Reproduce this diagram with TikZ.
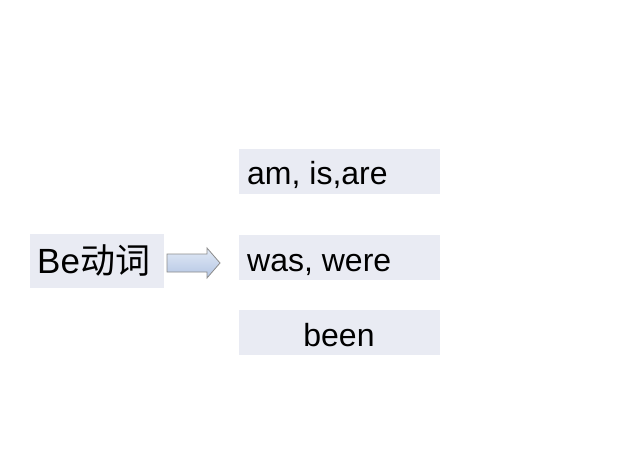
\documentclass[tikz,border=0pt]{standalone}
\usepackage{fontspec}
\setmainfont{Liberation Sans}
\newfontfamily\cjk{Noto Sans CJK SC}
\definecolor{boxfill}{HTML}{E9EBF3}
\definecolor{arrowtop}{HTML}{E2EAF6}
\definecolor{arrowbot}{HTML}{B3C5E3}
\definecolor{arrowline}{HTML}{8C8C8C}
\tikzset{
  wordbox/.style={fill=boxfill, draw=none, minimum width=201pt, minimum height=45pt, inner sep=0pt, anchor=north west},
  bebox/.style={fill=boxfill, draw=none, minimum width=134pt, minimum height=54pt, inner sep=0pt, anchor=north west},
  wordtext/.style={anchor=base west, inner sep=0pt, font=\fontsize{32}{32}\selectfont},
  blockarrow/.style={draw=arrowline, line width=0.8pt, top color=arrowtop, bottom color=arrowbot, line join=miter}
}
\begin{document}
\begin{tikzpicture}[x=1pt,y=-1pt]
\useasboundingbox[fill=white] (0,0) rectangle (640,468);
\node[bebox] (be) at (30,234) {};
\node[anchor=base west, inner sep=0pt, font=\fontsize{35}{35}\selectfont] (betext) at (37,273) {Be{\cjk 动词}};
\node[wordbox] (b1) at (239,149) {};
\node[wordtext] (t1) at (247,185) {am, is,are};
\node[wordbox] (b2) at (239,235) {};
\node[wordtext] (t2) at (247,271) {was, were};
\node[wordbox] (b3) at (239,310) {};
\node[wordtext, anchor=base] (t3) at (339,346) {been};
\coordinate (as) at (167,263);
\path[blockarrow] (as) ++(0,-9) -- ++(40,0) -- ++(0,-6) -- ++(13,15) -- ++(-13,15) -- ++(0,-6) -- ++(-40,0) -- cycle;
\end{tikzpicture}
\end{document}
